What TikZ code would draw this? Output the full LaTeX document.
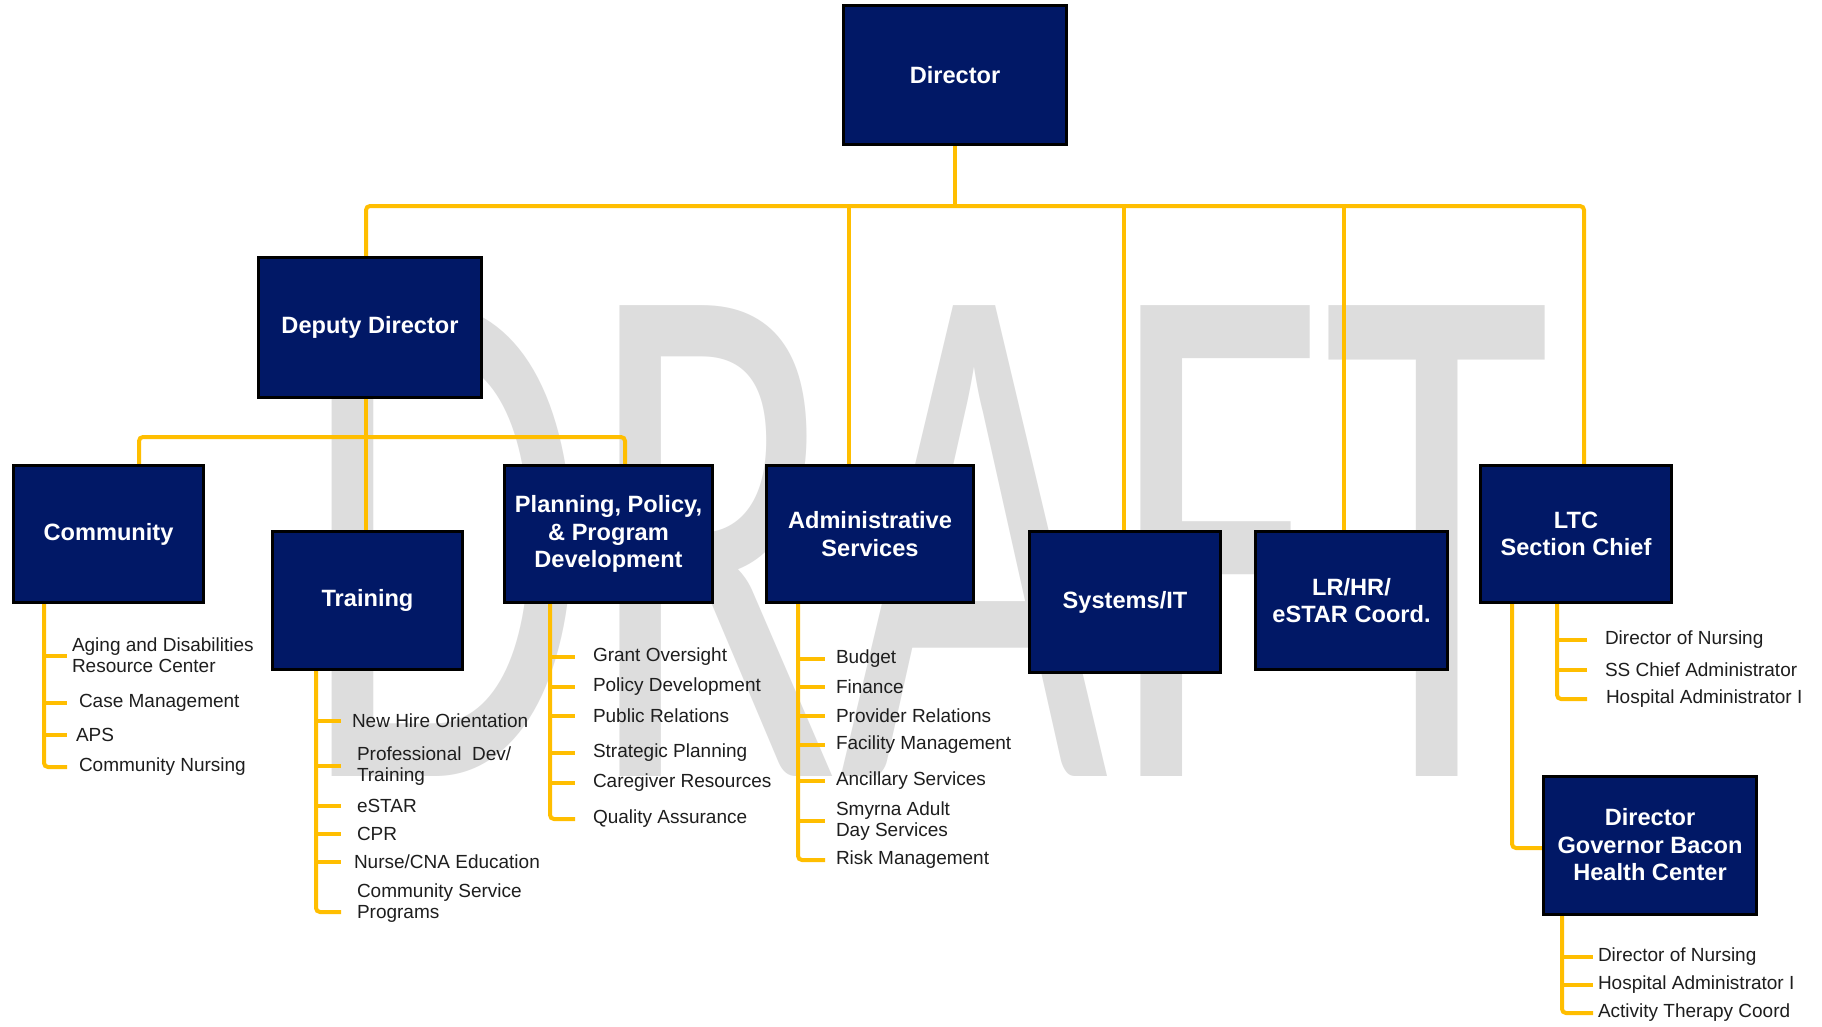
\documentclass[tikz,border=0pt]{standalone}
\usepackage{graphicx}
\usepackage{fontspec}
\setmainfont{Liberation Sans}
\newfontfamily\wmfont{Carlito}
\definecolor{navy}{RGB}{1,24,102}
\definecolor{gold}{RGB}{255,190,0}
\definecolor{wmgray}{RGB}{221,221,221}
\definecolor{itemtext}{RGB}{30,30,30}
\begin{document}
\begin{tikzpicture}[x=1pt,y=-1pt,
  box/.style={draw=black, line width=2pt, fill=navy, text=white,
    font=\fontsize{23.6}{27.5}\selectfont\bfseries, align=center, inner sep=0pt},
  conn/.style={draw=gold, line width=4pt, rounded corners=4pt},
  sub/.style={anchor=west, inner sep=0pt, outer xsep=#1, text=itemtext,
    font=\fontsize{19}{21}\selectfont, align=left},
]
\useasboundingbox (0,0) rectangle (1822,1026);
\fill[white] (0,0) rectangle (1822,1026);

% watermark
\node[anchor=base west, inner sep=0pt, text=wmgray] (wm) at (300,776)
  {\scalebox{1}[1.575]{\wmfont\fontsize{466}{466}\selectfont DRAFT}};

% x / y reference coordinates
\coordinate (ybus) at (0,206);
\coordinate (ydbus) at (0,437);
\coordinate (xdep) at (366,0);
\coordinate (xadm) at (849,0);
\coordinate (xsys) at (1124,0);
\coordinate (xlr) at (1344,0);
\coordinate (xltc) at (1584,0);
\coordinate (xcom) at (139,0);
\coordinate (xpl) at (625,0);
\coordinate (xcs) at (44,0);
\coordinate (xts) at (316,0);
\coordinate (xps) at (550,0);
\coordinate (xas) at (798,0);
\coordinate (xls) at (1557,0);
\coordinate (xlo) at (1512,0);
\coordinate (xgs) at (1562,0);

% boxes
\node[box, minimum width=222pt, minimum height=138pt] (dir) at (955,75) {Director};
\node[box, minimum width=222pt, minimum height=139pt] (dep) at (370,327.5) {Deputy Director};
\node[box, minimum width=189pt, minimum height=136pt] (com) at (108.5,534) {Community};
\node[box, minimum width=189pt, minimum height=137pt] (tr) at (367.5,600.5) {Training};
\node[box, minimum width=207pt, minimum height=136pt] (pl) at (608.5,534) {Planning, Policy,\\\& Program\\Development};
\node[box, minimum width=206pt, minimum height=136pt] (adm) at (870,534) {Administrative\\Services};
\node[box, minimum width=190pt, minimum height=140pt] (sys) at (1125,602) {Systems/IT};
\node[box, minimum width=191pt, minimum height=137pt] (lr) at (1351.5,600.5) {LR/HR/\\eSTAR Coord.};
\node[box, minimum width=190pt, minimum height=136pt] (ltc) at (1576,534) {LTC\\Section Chief};
\node[box, minimum width=212pt, minimum height=137pt] (gb) at (1650,845) {Director\\Governor Bacon\\Health Center};

% sub items
\node[sub=5pt] (c1) at (67,655.5) {Aging and Disabilities\\Resource Center};
\node[sub=12pt] (c2) at (67,703) {Case Management};
\node[sub=9pt] (c3) at (67,735) {APS};
\node[sub=12pt] (c4) at (67,767) {Community Nursing};

\node[sub=11pt] (t1) at (341,721) {New Hire Orientation};
\node[sub=16pt] (t2) at (341,766) {Professional\ \ Dev/\\Training};
\node[sub=16pt] (t3) at (341,806) {eSTAR};
\node[sub=16pt] (t4) at (341,834) {CPR};
\node[sub=13pt] (t5) at (341,862) {Nurse/CNA Education};
\node[sub=16pt] (t6) at (341,903) {Community Service\\Programs};

\node[sub=18pt] (p1) at (575,657) {Grant Oversight};
\node[sub=18pt] (p2) at (575,687) {Policy Development};
\node[sub=18pt] (p3) at (575,716) {Public Relations};
\node[sub=18pt] (p4) at (575,753) {Strategic Planning};
\node[sub=18pt] (p5) at (575,783) {Caregiver Resources};
\node[sub=18pt] (p6) at (575,819) {Quality Assurance};

\node[sub=11pt] (a1) at (825,659) {Budget};
\node[sub=11pt] (a2) at (825,687) {Finance};
\node[sub=11pt] (a3) at (825,716) {Provider Relations};
\node[sub=11pt] (a4) at (825,745) {Facility Management};
\node[sub=11pt] (a5) at (825,781) {Ancillary Services};
\node[sub=11pt] (a6) at (825,821) {Smyrna Adult\\Day Services};
\node[sub=11pt] (a7) at (825,860) {Risk Management};

\node[sub=18pt] (l1) at (1587,640) {Director of Nursing};
\node[sub=18pt] (l2) at (1587,670) {SS Chief Administrator};
\node[sub=19pt] (l3) at (1587,699) {Hospital Administrator I};

\node[sub=5pt] (g1) at (1593,957) {Director of Nursing};
\node[sub=5pt] (g2) at (1593,985) {Hospital Administrator I};
\node[sub=5pt] (g3) at (1593,1013) {Activity Therapy Coord};

% top-level connectors
\draw[conn] (dir.south) -- (dir.south |- ybus);
\draw[conn] (dep.north -| xdep) -- (xdep |- ybus) -- (xltc |- ybus) -- (ltc.north -| xltc);
\draw[conn] (adm.north -| xadm) -- (xadm |- ybus);
\draw[conn] (sys.north -| xsys) -- (xsys |- ybus);
\draw[conn] (lr.north -| xlr) -- (xlr |- ybus);

% deputy connectors
\draw[conn] (com.north -| xcom) -- (xcom |- ydbus) -- (xpl |- ydbus) -- (pl.north -| xpl);
\draw[conn] (dep.south -| xdep) -- (tr.north -| xdep);

% community items
\draw[conn] (com.south -| xcs) |- (c4.west);
\foreach \n in {c1,c2,c3} \draw[conn] (\n.west -| xcs) -- (\n.west);
% training items
\draw[conn] (tr.south -| xts) |- ([yshift=-9pt]t6.west);
\foreach \n in {t1,t2,t3,t4,t5} \draw[conn] (\n.west -| xts) -- (\n.west);
% planning items
\draw[conn] (pl.south -| xps) |- (p6.west);
\foreach \n in {p1,p2,p3,p4,p5} \draw[conn] (\n.west -| xps) -- (\n.west);
% admin items
\draw[conn] (adm.south -| xas) |- (a7.west);
\foreach \n in {a1,a2,a3,a4,a5,a6} \draw[conn] (\n.west -| xas) -- (\n.west);
% LTC items
\draw[conn] (ltc.south -| xls) |- (l3.west);
\foreach \n in {l1,l2} \draw[conn] (\n.west -| xls) -- (\n.west);
\draw[conn] (ltc.south -| xlo) |- ([yshift=-3pt]gb.west);
% GBHC items
\draw[conn] (gb.south -| xgs) |- (g3.west);
\foreach \n in {g1,g2} \draw[conn] (\n.west -| xgs) -- (\n.west);

% box borders over connector ends
\foreach \b in {dir,dep,com,tr,pl,adm,sys,lr,ltc,gb} \draw[black, line width=2pt] (\b.north west) rectangle (\b.south east);
\end{tikzpicture}
\end{document}
